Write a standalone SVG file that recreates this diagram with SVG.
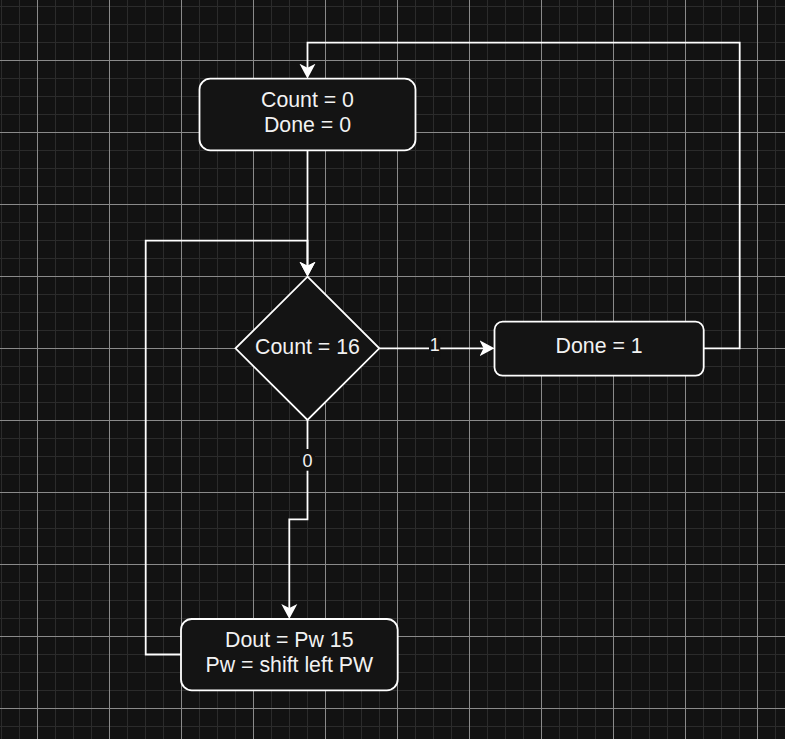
<svg xmlns="http://www.w3.org/2000/svg" width="785" height="739" viewBox="0 0 785 739">
  <defs>
    <pattern id="grid" patternUnits="userSpaceOnUse" x="1" y="6" width="72" height="72">
      <path d="M0.5 0V72M18.5 0V72M54.5 0V72M0 0.5H72M0 18.5H72M0 36.5H72" stroke="#2b2b2b" stroke-width="1" fill="none"/>
      <path d="M36.5 0V72M0 54.5H72" stroke="#8a8a8a" stroke-width="1" fill="none"/>
    </pattern>
    <marker id="arrow" markerUnits="userSpaceOnUse" markerWidth="16" markerHeight="18" viewBox="0 -9 16 18" refX="11" refY="0" orient="auto">
      <path d="M0,-8 L15,0 L0,8 L4,0 Z" fill="#ffffff"/>
    </marker>
    <style>
      .node { fill: #141414; stroke: #ffffff; stroke-width: 1.8; }
      .label { font-family: "Liberation Sans", Arial, Helvetica, sans-serif; font-size: 21.3px; fill: #f2f2f2; text-anchor: middle; }
      .elabel { font-family: "Liberation Sans", Arial, Helvetica, sans-serif; font-size: 18px; fill: #f2f2f2; text-anchor: middle; }
      .edge { fill: none; stroke: #ffffff; stroke-width: 1.8; }
      .lblbg { fill: #121212; }
    </style>
  </defs>

  <rect x="0" y="0" width="785" height="739" fill="#121212"/>
  <rect x="0" y="0" width="785" height="739" fill="url(#grid)"/>

  <g id="connectors">
    <path class="edge" d="M307.5 150.3 V272.7" marker-end="url(#arrow)"/>
    <path class="edge" d="M181 654.5 H145.7 V240.7 H307.5 V272.7" marker-end="url(#arrow)"/>
    <path class="edge" d="M379.3 348.3 H490.5" marker-end="url(#arrow)"/>
    <path class="edge" d="M307.5 420 V519.3 H289.3 V615" marker-end="url(#arrow)"/>
    <path class="edge" d="M703.7 348.3 H739.7 V42.7 H307.5 V74.7" marker-end="url(#arrow)"/>
    <g id="label-1">
      <rect class="lblbg" x="429" y="337" width="11.3" height="20"/>
      <text class="elabel" x="434.7" y="350.7">1</text>
    </g>
    <g id="label-0">
      <rect class="lblbg" x="300" y="449" width="15" height="21.7"/>
      <text class="elabel" x="307.5" y="467.3">0</text>
    </g>
  </g>

  <g id="node-init">
    <rect class="node" x="199.5" y="78.7" width="216" height="71.6" rx="10.8" ry="10.8"/>
    <text class="label" x="307.5" y="107">Count = 0</text>
    <text class="label" x="307.5" y="132.3">Done = 0</text>
  </g>

  <g id="node-decision">
    <path class="node" d="M307.5 276.7 L379.3 348.3 L307.5 420 L235.5 348.3 Z"/>
    <text class="label" x="307.5" y="353.7">Count = 16</text>
  </g>

  <g id="node-done">
    <rect class="node" x="494.5" y="321.7" width="209.2" height="54" rx="8.1" ry="8.1"/>
    <text class="label" x="599.1" y="353.3">Done = 1</text>
  </g>

  <g id="node-shift">
    <rect class="node" x="181" y="619" width="216.7" height="71.3" rx="10.8" ry="10.8"/>
    <text class="label" x="289.3" y="647.3">Dout = Pw 15</text>
    <text class="label" x="289.3" y="672.3">Pw = shift left PW</text>
  </g>
</svg>
